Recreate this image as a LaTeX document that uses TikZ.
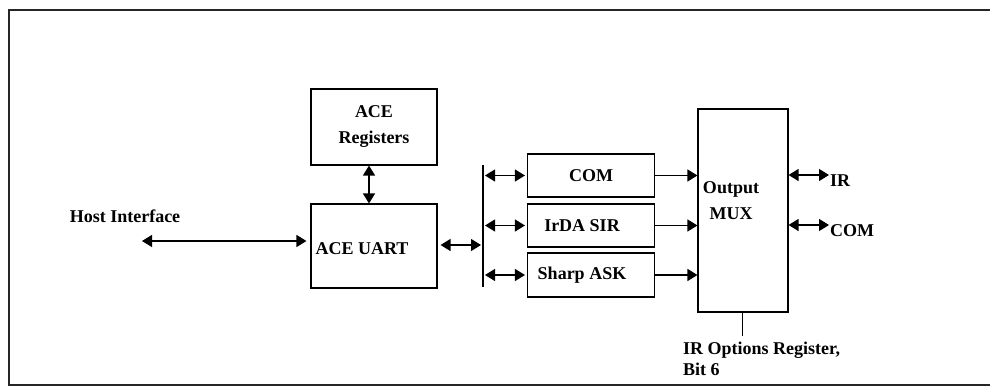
\documentclass[tikz,border=0pt]{standalone}
\usepackage{fontspec}
\setmainfont{Liberation Serif}
\usetikzlibrary{arrows.meta}
\begin{document}
\begin{tikzpicture}[x=1pt,y=-1pt,
			blockbox/.style={rectangle, draw=black, line width=1.1pt, inner sep=0pt, align=center},
			txt/.style={inner sep=0pt, align=center},
			dbl/.style={{Triangle[length=10pt,width=12pt]}-{Triangle[length=10pt,width=12pt]}, line width=1.2pt},
			sgl/.style={-{Triangle[length=10pt,width=12pt]}, line width=1.2pt},
			every node/.style={font=\fontsize{18}{26}\selectfont\bfseries},
			]
\useasboundingbox (0,0) rectangle (990,388);
\draw[line width=1.2pt, black!85] (991,10) -- (9,10) -- (9,385) -- (991,385);

\node[blockbox, minimum width=126pt, minimum height=76pt] (regs) at (374,127) {ACE\\Registers};
\node[blockbox, minimum width=126pt, minimum height=84pt] (uart) at (374,246) {};
\node[txt] (uarttxt) at (362,249) {ACE UART};
\node[txt] (host) at (125,216) {Host Interface};

\node[blockbox, minimum width=127pt, minimum height=43pt] (com) at (591,175.5) {COM};
\node[blockbox, minimum width=127pt, minimum height=43pt] (irda) at (591,225.5) {\hspace{-18pt}IrDA SIR};
\node[blockbox, minimum width=127pt, minimum height=44pt] (sharp) at (591,275) {\hspace{-18pt}Sharp ASK};

\node[blockbox, minimum width=90pt, minimum height=203pt] (mux) at (743,210.5) {};
\node[txt] (muxtxt) at (731,201) {Output\\MUX};

\node[txt, anchor=west] (ir) at (830,181) {IR};
\node[txt, anchor=west] (comout) at (830,231) {COM};
\node[txt, anchor=north west, align=left, font=\fontsize{18}{21}\selectfont\bfseries] (opts) at (683,342) {IR Options Register,\\Bit 6};

% bus
\coordinate (bustop) at (483,165);
\coordinate (busbot) at (483,287);
\coordinate (hostend) at (142,241);
\coordinate (optend) at (742,336);
\draw[line width=2pt] (bustop) -- (busbot);

% connections
\draw[dbl, shorten >=4pt] (hostend) -- (hostend -| uart.west);
\draw[dbl] ([xshift=-5pt]regs.south) -- ([xshift=-5pt]uart.north);
\draw[dbl, shorten <=3pt, shorten >=2pt] ([yshift=1pt]uart.east) -- ([yshift=1pt]uart.east -| bustop);
\foreach \blk in {com,irda,sharp}{
  \draw[dbl, shorten <=2pt, shorten >=2pt] (\blk.west -| bustop) -- (\blk.west);
  \draw[sgl] (\blk.east) -- (\blk.east -| mux.west);
}
\draw[dbl] (mux.east |- 0,175) -- ([xshift=-1pt]ir.west |- 0,175);
\draw[dbl] (mux.east |- 0,225) -- ([xshift=-1pt]comout.west |- 0,225);
\draw[line width=0.8pt] ([xshift=-1pt]mux.south) -- (optend);

\end{tikzpicture}
\end{document}
